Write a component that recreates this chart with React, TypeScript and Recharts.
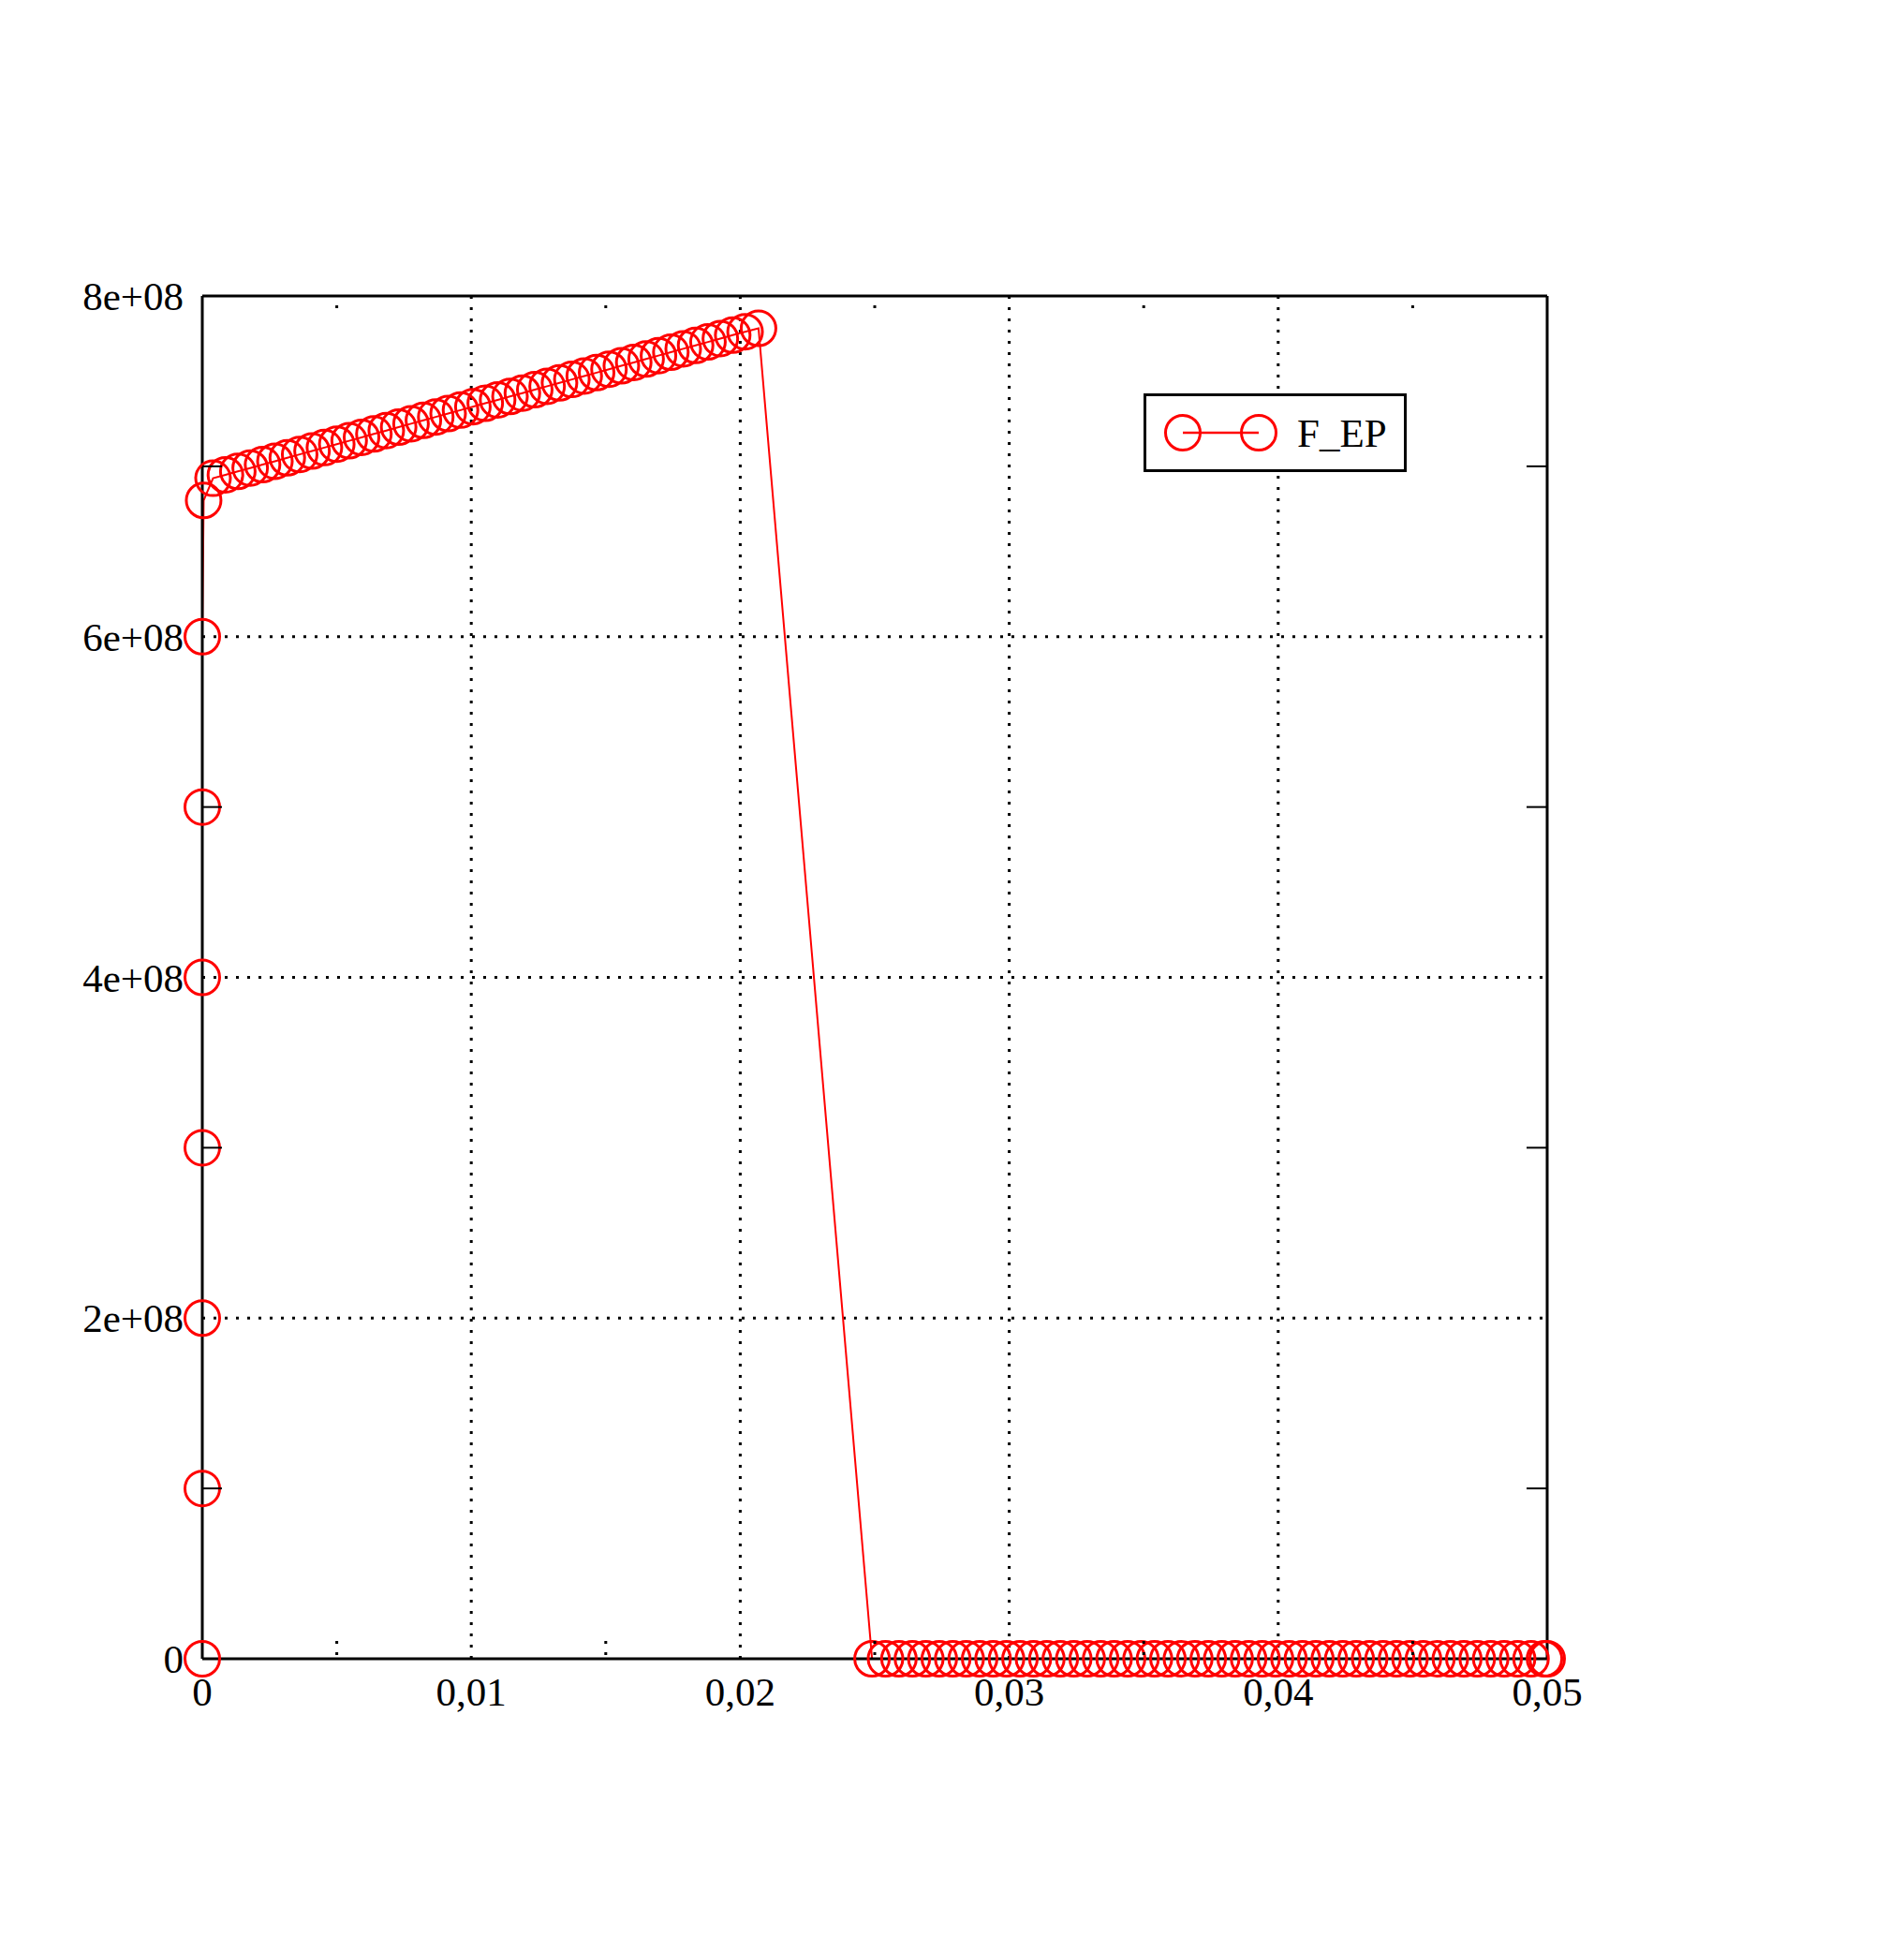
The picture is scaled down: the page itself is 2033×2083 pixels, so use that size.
import { LineChart, Line, XAxis, YAxis, ReferenceLine, Legend } from "recharts";

// loading ramp at x = 0
const rampX = [0, 0, 0, 0, 0, 0, 0, 0.00005];
const rampY = [0, 1e8, 2e8, 3e8, 4e8, 5e8, 6e8, 6.8e8];

// hardening branch
const upperX = [
  0.0004, 0.00086, 0.00132, 0.00178, 0.00224, 0.0027, 0.00316, 0.00362, 0.00408, 0.00454,
  0.005, 0.00546, 0.00592, 0.00638, 0.00684, 0.0073, 0.00776, 0.00822, 0.00868, 0.00914,
  0.0096, 0.01006, 0.01052, 0.01098, 0.01144, 0.0119, 0.01236, 0.01282, 0.01328, 0.01374,
  0.0142, 0.01466, 0.01512, 0.01558, 0.01604, 0.0165, 0.01696, 0.01742, 0.01788, 0.01834,
  0.0188, 0.01926, 0.01972, 0.02018, 0.02068,
];
const upperY = [
  6.93e8, 6.95e8, 6.97e8, 6.99e8, 7.01e8, 7.03e8, 7.05e8, 7.07e8, 7.09e8, 7.11e8,
  7.13e8, 7.15e8, 7.17e8, 7.19e8, 7.21e8, 7.23e8, 7.25e8, 7.27e8, 7.29e8, 7.31e8,
  7.33e8, 7.35e8, 7.37e8, 7.39e8, 7.41e8, 7.43e8, 7.45e8, 7.47e8, 7.49e8, 7.51e8,
  7.53e8, 7.55e8, 7.57e8, 7.59e8, 7.61e8, 7.63e8, 7.65e8, 7.67e8, 7.69e8, 7.71e8,
  7.73e8, 7.75e8, 7.77e8, 7.79e8, 7.81e8,
];

// after failure
const failX = [
  0.0249, 0.0254, 0.0259, 0.0264, 0.0269, 0.0274, 0.0279, 0.0284, 0.0289, 0.0294,
  0.0299, 0.0304, 0.0309, 0.0314, 0.0319, 0.0324, 0.0329, 0.0334, 0.0339, 0.0344,
  0.0349, 0.0354, 0.0359, 0.0364, 0.0369, 0.0374, 0.0379, 0.0384, 0.0389, 0.0394,
  0.0399, 0.0404, 0.0409, 0.0414, 0.0419, 0.0424, 0.0429, 0.0434, 0.0439, 0.0444,
  0.0449, 0.0454, 0.0459, 0.0464, 0.0469, 0.0474, 0.0479, 0.0484, 0.0489, 0.0494,
  0.0499, 0.05,
];
const failY = [
  0, 0, 0, 0, 0, 0, 0, 0, 0, 0,
  0, 0, 0, 0, 0, 0, 0, 0, 0, 0,
  0, 0, 0, 0, 0, 0, 0, 0, 0, 0,
  0, 0, 0, 0, 0, 0, 0, 0, 0, 0,
  0, 0, 0, 0, 0, 0, 0, 0, 0, 0,
  0, 0,
];

const xTicks = [0, 0.005, 0.01, 0.015, 0.02, 0.025, 0.03, 0.035, 0.04, 0.045, 0.05];
const xLabels = ["0", "", "0,01", "", "0,02", "", "0,03", "", "0,04", "", "0,05"];
const yTicks = [0, 1e8, 2e8, 3e8, 4e8, 5e8, 6e8, 7e8, 8e8];
const yLabels = ["0", "", "2e+08", "", "4e+08", "", "6e+08", "", "8e+08"];
const xGrid = [0.01, 0.02, 0.03, 0.04];
const yGrid = [2e8, 4e8, 6e8];

const data = [
  ...rampX.map((x, i) => ({ x, y: rampY[i] })),
  ...upperX.map((x, i) => ({ x, y: upperY[i] })),
  ...failX.map((x, i) => ({ x, y: failY[i] })),
];

const FONT = "'Liberation Serif', 'Times New Roman', serif";
const RED = "#ff0000";
const DOTS = "3 9";

const BottomTick = (props: any) => {
  const { x, y, index } = props;
  const label = xLabels[index];
  return (
    <g>
      {label === "" && (
        <line x1={x} x2={x} y1={y - 4} y2={y - 20} stroke="#000" strokeWidth={3} strokeDasharray={DOTS} />
      )}
      <text x={x} y={y + 50} textAnchor="middle" fontFamily={FONT} fontSize={43} fill="#000">
        {label}
      </text>
    </g>
  );
};

const TopTick = (props: any) => {
  const { x, y, index } = props;
  if (xLabels[index] !== "") return <g />;
  return <line x1={x} x2={x} y1={y + 10} y2={y + 22} stroke="#000" strokeWidth={3} strokeDasharray={DOTS} />;
};

const LeftTick = (props: any) => {
  const { x, y, index } = props;
  const label = yLabels[index];
  return (
    <g>
      {label === "" && <line x1={x} x2={x + 21} y1={y} y2={y} stroke="#000" strokeWidth={2} />}
      <text x={x - 20} y={y} dy="0.35em" textAnchor="end" fontFamily={FONT} fontSize={43} fill="#000">
        {label}
      </text>
    </g>
  );
};

const RightTick = (props: any) => {
  const { x, y, index } = props;
  if (yLabels[index] !== "") return <g />;
  return <line x1={x} x2={x - 22} y1={y} y2={y} stroke="#000" strokeWidth={2} />;
};

const renderDot = (props: any) => {
  const { cx, cy, index } = props;
  return <circle key={`dot-${index}`} cx={cx} cy={cy} r={18.5} fill="none" stroke={RED} strokeWidth={3} />;
};

const renderLegend = () => (
  <svg width={281} height={84} style={{ display: "block" }}>
    <rect x={1.5} y={1.5} width={278} height={81} fill="#fff" stroke="#000" strokeWidth={3} />
    <line x1={42} x2={123} y1={42} y2={42} stroke={RED} strokeWidth={2.5} />
    <circle cx={42} cy={42} r={18.5} fill="none" stroke={RED} strokeWidth={3} />
    <circle cx={123} cy={42} r={18.5} fill="none" stroke={RED} strokeWidth={3} />
    <text x={164} y={57} fontFamily={FONT} fontSize={43} fill="#000">
      F_EP
    </text>
  </svg>
);

const axisStroke = { stroke: "#000", strokeWidth: 3 };

export default function App() {
  return (
    <div style={{ position: "absolute", left: 0, top: 0, background: "#fff" }}>
      <LineChart
        width={2033}
        height={2083}
        data={data}
        margin={{ top: 315, right: 380, bottom: 311, left: 215 }}
      >
        {xGrid.map((v) => (
          <ReferenceLine key={`gx-${v}`} x={v} stroke="#000" strokeWidth={3} strokeDasharray={DOTS} />
        ))}
        {yGrid.map((v) => (
          <ReferenceLine key={`gy-${v}`} y={v} stroke="#000" strokeWidth={3} strokeDasharray={DOTS} />
        ))}
        <Line
          type="linear"
          dataKey="y"
          stroke={RED}
          strokeWidth={2}
          dot={renderDot}
          activeDot={false}
          isAnimationActive={false}
        />
        <XAxis
          type="number"
          dataKey="x"
          domain={[0, 0.05]}
          ticks={xTicks}
          interval={0}
          height={1}
          tickSize={0}
          tickMargin={0}
          tickLine={false}
          tick={<BottomTick />}
          axisLine={axisStroke}
        />
        <XAxis
          xAxisId="top"
          orientation="top"
          type="number"
          dataKey="x"
          domain={[0, 0.05]}
          ticks={xTicks}
          interval={0}
          height={1}
          tickSize={0}
          tickMargin={0}
          tickLine={false}
          tick={<TopTick />}
          axisLine={axisStroke}
        />
        <YAxis
          type="number"
          dataKey="y"
          domain={[0, 8e8]}
          ticks={yTicks}
          interval={0}
          width={1}
          tickSize={0}
          tickMargin={0}
          tickLine={false}
          tick={<LeftTick />}
          axisLine={axisStroke}
        />
        <YAxis
          yAxisId="right"
          orientation="right"
          type="number"
          dataKey="y"
          domain={[0, 8e8]}
          ticks={yTicks}
          interval={0}
          width={1}
          tickSize={0}
          tickMargin={0}
          tickLine={false}
          tick={<RightTick />}
          axisLine={axisStroke}
        />
        <Legend
          content={renderLegend}
          verticalAlign="middle"
          align="center"
          wrapperStyle={{ left: 1221, top: 420, width: 281, height: 84 }}
        />
      </LineChart>
    </div>
  );
}
